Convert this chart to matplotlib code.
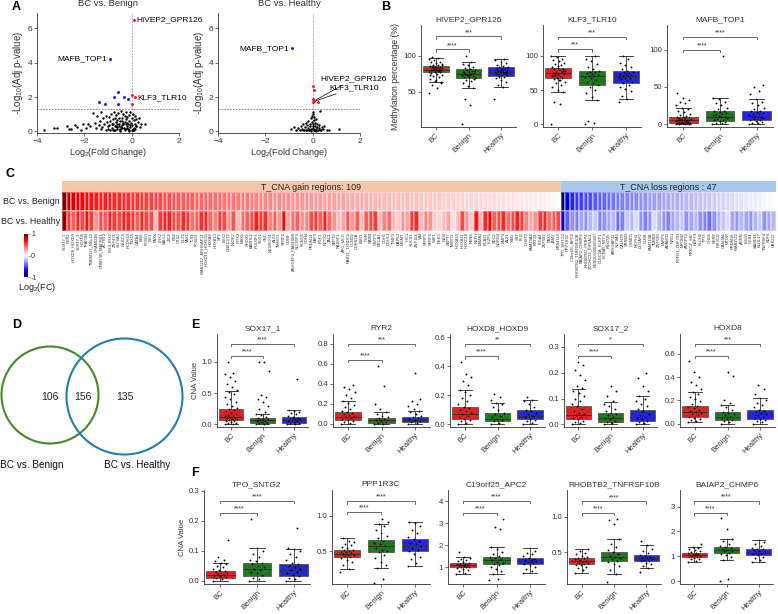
import numpy as np
import matplotlib
matplotlib.use('Agg')
import matplotlib.pyplot as plt
from matplotlib.patches import Circle, Rectangle
from matplotlib.colors import LinearSegmentedColormap, Normalize
from matplotlib.cm import ScalarMappable

plt.rcParams['font.family'] = ['Liberation Sans', 'DejaVu Sans']
plt.rcParams['mathtext.fontset'] = 'custom'
plt.rcParams['mathtext.rm'] = 'Liberation Sans'
plt.rcParams['mathtext.it'] = 'Liberation Sans:italic'
plt.rcParams['mathtext.bf'] = 'Liberation Sans:bold'

# ---------------- DATA ----------------
GROUPS = ['BC', 'Benign', 'Healthy']
GROUP_COLORS = ['#E41F1F', '#1B7A1B', '#2424E0']

# Panel A volcano: BC vs Benign
VB_x = [-3.7,-3.3,-3.15,-2.75,-2.65,-2.55,-2.4,-2.3,-2.15,-2.05,-1.95,-1.85,-1.75,-1.65,-1.55,-1.5,-1.45,-1.4,-1.35,-1.3,
        -1.25,-1.2,-1.15,-1.1,-1.05,-1.0,-0.95,-0.9,-0.88,-0.85,-0.8,-0.78,-0.75,-0.72,-0.7,-0.68,-0.65,-0.62,-0.6,-0.58,
        -0.55,-0.52,-0.5,-0.48,-0.45,-0.42,-0.4,-0.38,-0.35,-0.33,-0.3,-0.28,-0.25,-0.23,-0.2,-0.18,-0.15,-0.13,-0.1,-0.08,
        -0.05,-0.03,0.0,0.02,0.05,0.08,0.1,0.12,0.15,0.18,0.2,0.25,0.3,0.35,0.4,0.55,-0.9,-0.7,-0.5,-0.3,
        -0.1,0.05,-0.6,-0.4,-0.2,0.1,-1.1,-0.8,-0.65,-0.45,-0.25,-0.15,0.0,0.2,-1.3,-0.95,-0.55,-0.35,-0.05,0.15,
        -0.75,-0.5,-0.3,-0.1,0.05,-0.85,-0.6,-0.2,-0.4,-1.0]
VB_y = [0.08,0.18,0.2,0.3,0.15,0.12,0.35,0.25,0.1,0.4,0.2,0.45,0.3,1.05,0.5,0.2,0.9,0.35,0.6,1.1,
        0.25,0.75,0.4,0.9,0.55,0.3,0.85,0.6,1.0,0.2,0.7,0.45,1.15,0.3,0.8,0.55,0.95,0.25,0.65,1.05,
        0.4,0.8,0.15,0.6,1.2,0.35,0.75,0.5,1.0,0.2,0.9,0.55,0.7,1.1,0.3,0.85,0.45,0.95,0.6,0.25,
        1.15,0.5,0.8,0.35,1.0,0.65,0.2,0.9,0.45,0.7,0.3,0.55,0.8,0.25,0.4,0.45,0.1,0.05,0.08,0.12,
        0.06,0.1,0.15,0.2,0.18,0.05,0.05,0.1,0.3,0.25,0.4,0.15,0.1,0.3,0.12,0.35,0.28,0.45,0.35,0.15,
        0.05,0.02,0.05,0.03,0.08,0.4,0.45,0.5,0.6,0.15]
VB_blue_x = [-1.38,-1.13,-0.73,-0.57,-0.31,-0.17,-0.57,-0.92]
VB_blue_y = [1.71,1.58,2.0,2.3,2.0,1.89,1.58,4.22]
VB_red_x = [0.1,0.03,0.13,0.03]
VB_red_y = [6.5,2.13,1.98,1.58]

# Panel A volcano: BC vs Healthy
VH_x = [-0.9,-0.8,-0.7,-0.62,-0.55,-0.5,-0.45,-0.4,-0.35,-0.32,-0.28,-0.25,-0.22,-0.2,-0.18,-0.15,-0.12,-0.1,-0.08,-0.06,
        -0.04,-0.02,0.0,0.0,0.02,0.02,0.04,0.05,0.06,0.08,0.1,0.12,0.15,0.18,0.2,0.22,0.25,0.28,0.3,0.35,
        0.4,0.45,0.5,0.6,0.7,1.1,-0.3,-0.15,0.05,0.1,-0.05,0.0,0.03,-0.4,0.15,0.3]
VH_y = [0.15,0.25,0.1,0.2,0.05,0.3,0.15,0.4,0.1,0.25,0.5,0.05,0.35,0.2,0.6,0.1,0.45,0.3,0.75,0.15,
        0.55,0.9,1.0,0.4,1.15,0.2,0.65,0.85,0.1,0.5,0.3,0.7,0.15,0.4,0.25,0.05,0.35,0.2,1.2,0.1,
        0.25,0.15,0.3,0.1,0.05,0.12,0.08,0.05,0.05,0.1,0.02,0.15,0.3,0.05,0.02,0.05]
VH_blue_x = [-0.89]
VH_blue_y = [4.84]
VH_red_x = [0.03,0.06,0.03,0.06,0.03,0.24]
VH_red_y = [2.67,2.42,1.89,1.77,1.73,1.70]

# Panel B: methylation percentage (box stats: lo, q1, med, q3, hi)
B_titles = ['HIVEP2_GPR126', 'KLF3_TLR10', 'MAFB_TOP1']
B1_stats = [(64,77,81,86,97), (55,69,75,82,91), (57,72,78,84,96)]
B1_pts = [[48,55,60,63,65,68,70,72,74,75,76,77,78,78,79,80,80,81,81,82,82,83,83,84,85,85,86,87,88,89,90,91,92,94,96,97,99,62,66,73,79,84,87],
          [5,32,40,55,58,62,65,67,69,70,71,72,73,74,75,75,76,77,78,79,80,81,82,83,85,87,89,91,100,68,73,78],
          [40,57,60,63,66,69,71,72,73,74,75,76,77,78,78,79,80,81,82,83,84,85,86,88,90,92,94,96,70,77,82]]
B2_stats = [(47,67,75,82,100), (35,58,71,78,100), (37,61,70,78,100)]
B2_pts = [[0,30,32,47,50,55,58,60,62,64,66,67,68,70,71,72,73,74,75,76,77,78,79,80,81,82,84,86,88,90,92,94,96,98,100,65,72,78,85],
          [0,2,5,35,40,45,50,55,58,60,62,65,67,69,70,71,72,74,75,76,77,78,80,84,88,92,96,100],
          [33,37,42,48,52,55,58,60,62,64,66,67,68,69,70,71,72,73,74,75,76,77,78,80,83,86,90,95,100]]
B3_stats = [(0,1,5,9,22), (0,4,9,17,35), (0,5,9,17,34)]
B3_pts = [[0,0,0,0,1,1,1,2,2,2,3,3,3,4,4,5,5,5,6,6,7,7,8,8,9,9,10,11,12,14,16,18,20,22,25,28,30,32,35,42],
          [0,1,2,3,4,5,6,7,8,9,9,10,11,12,13,14,15,16,17,18,20,22,25,28,30,33,35,91],
          [0,1,2,3,4,5,6,7,8,9,9,10,11,12,13,14,15,16,17,18,20,22,25,28,30,34,40,45,50,53]]
B_brackets = [[(1,2,109,'****'),(1,3,127,'***')],
              [(1,2,110,'***'),(1,3,128,'***')],
              [(1,2,100,'****'),(1,3,117,'****')]]

# Panel C heatmap (log2 FC)
C_gain_benign = [0.98,0.85,0.78,0.72,0.70,0.68,0.66,0.64,0.63,0.62,
                 0.61,0.60,0.59,0.58,0.57,0.56,0.55,0.54,0.53,0.52,
                 0.51,0.50,0.49,0.48,0.47,0.46,0.45,0.45,0.44,0.43,
                 0.42,0.42,0.41,0.40,0.40,0.39,0.38,0.38,0.37,0.36,
                 0.36,0.35,0.35,0.34,0.33,0.33,0.32,0.32,0.31,0.31,
                 0.30,0.30,0.29,0.29,0.28,0.28,0.27,0.27,0.26,0.26,
                 0.25,0.25,0.24,0.24,0.23,0.23,0.22,0.22,0.21,0.21,
                 0.20,0.20,0.19,0.19,0.18,0.18,0.17,0.17,0.16,0.16,
                 0.15,0.15,0.15,0.14,0.14,0.13,0.13,0.12,0.12,0.12,
                 0.11,0.11,0.10,0.10,0.10,0.09,0.09,0.08,0.08,0.07,
                 0.07,0.06,0.06,0.05,0.05,0.04,0.03,0.02,0.01]
C_gain_healthy = [0.95,0.55,0.45,0.60,0.50,0.65,0.55,0.30,0.50,0.45,
                  0.60,0.55,0.50,0.62,0.58,0.55,0.45,0.60,0.52,0.50,
                  0.20,0.55,0.60,0.62,0.50,0.48,0.60,0.55,0.40,0.45,
                  0.58,0.60,0.42,0.35,0.55,0.50,0.30,0.48,0.20,0.40,
                  0.45,0.50,0.62,0.55,0.58,0.35,0.45,0.30,0.70,0.25,
                  0.40,0.45,0.30,0.35,0.50,0.55,0.45,0.62,0.42,0.30,
                  0.20,0.25,0.48,0.30,0.45,0.20,0.45,0.50,0.55,0.20,
                  0.35,0.40,0.20,0.15,0.30,0.25,0.55,0.60,0.20,0.35,
                  0.30,0.15,0.12,0.20,0.25,0.10,0.20,0.50,0.30,0.15,
                  0.65,0.20,0.60,0.70,0.45,0.50,0.60,0.40,0.50,0.62,
                  0.55,0.35,0.25,0.30,0.55,0.60,0.40,0.45,0.50]
C_loss_benign = [-1.0,-0.75,-0.6,-0.55,-0.52,-0.5,-0.48,-0.46,-0.44,-0.42,
                 -0.4,-0.38,-0.36,-0.35,-0.34,-0.33,-0.32,-0.31,-0.3,-0.28,
                 -0.27,-0.26,-0.25,-0.24,-0.23,-0.22,-0.21,-0.2,-0.19,-0.18,
                 -0.17,-0.16,-0.15,-0.14,-0.13,-0.12,-0.11,-0.1,-0.09,-0.08,
                 -0.07,-0.06,-0.05,-0.04,-0.03,-0.02,-0.01]
C_loss_healthy = [-0.8,-0.45,-0.3,-0.35,-0.25,-0.3,-0.2,-0.15,-0.35,-0.3,
                  -0.25,-0.2,-0.4,-0.35,-0.15,-0.2,-0.1,-0.3,-0.35,-0.3,
                  -0.1,-0.2,-0.3,-0.35,-0.25,-0.2,-0.15,-0.3,-0.25,-0.2,
                  -0.3,-0.35,-0.4,-0.3,-0.2,-0.15,-0.1,-0.25,-0.3,-0.2,
                  -0.25,-0.3,-0.2,-0.15,-0.3,-0.25,-0.2]
C_gain_names = ['SOX17_1','RYR2','HOXD8_HOXD9','SOX17_2','HOXD8','TFAP2B','TMEM117_NELL2','GRAMD1B','DNMT3B_MAPRE1','ACTRT2',
                'IRX4_IRX2','ZNF471','SLC6A3','NKX2-5','PCDH10','TBX15','GATA4','SIX6','FOXE1','WT1',
                'PAX6','LHX2','SALL1','ZIC4','EN2','OTX2','DLX5','VAX1','TLX1','FOXD3',
                'KIAA1217_ARHGAP21','HOXD10_HOXD11','HOXA9','HOXB13','SP9','EVX1','ONECUT2','NR2F2','PITX2','MSX1',
                'SHOX2','BARHL2','POU4F1','SOX1','GSC','NEUROG1','ALX4','TWIST1','SFRP2','GDNF',
                'ARHGEF4_FAM168B','SLC35F3','KCNQ5','CDH4','PRDM14','EBF3','FGF3','NPTX2','TAC1','SEPT9',
                'RASSF1','APC_MCC','RAB31_TXNDC2','CCND2','CDKN2A','ESR1','PGR','RARB','GSTP1','BRCA1',
                'CDH1','CDH13','TIMP3','DAPK1','MGMT','HIC1','SOCS1','ZNF154','VIM','SFRP1',
                'SFRP5','WIF1','DKK3','NID2','SEPT7','TWIST2','HOXA10','HOXA11','HOXC10','PENK',
                'NEFH','LAMA1','BCAT1','IKZF1','SDC2','NDRG4','BMP3','ALX1','SIM2','SST',
                'FLI1','CHST2','FAM19A4','KRT19','ITGA4','ZNF582','PAX1','JAM3','EPB41L3']
C_loss_names = ['TPO_SNTG2','PPP1R3C','C19orf25_APC2','RHOBTB2_TNFRSF10B','BAIAP2_CHMP6','RHOBTB2_PEBP4','ZCCHC24_EIF5AL1',
                'ENSG00000260807','CLEC2A_KLRF1','KCNA5_NTF3','FBXO25','ARHGAP32','SLC9A3','GALNT9','SRRM3','CSMD1',
                'MCPH1','DLGAP2','CLN8','FAM110A','TUBB8','ZNF596','LARP6','ADAM32','NRG1','FGFR1_ZNF703','MYOM2',
                'ANGPT2','PRKCZ_SKI','NBPF3','PLCH2','TP73','CHD5','RERE','PIK3CD','CAMTA1','MTOR','PRDM16',
                'KIAA1522','AGRN','ISG15','HES4','SAMD11','KLHL17','TNFRSF4','SDF4','UBE2J2']
C_rows = ['BC vs. Benign', 'BC vs. Healthy']

# Panel D Venn
D_counts = [106, 156, 135]
D_sets = ['BC vs. Benign', 'BC vs. Healthy']

# Panel E: CNA values (gain)
E_titles = ['SOX17_1', 'RYR2', 'HOXD8_HOXD9', 'SOX17_2', 'HOXD8']
E1_stats = [(0,0.07,0.12,0.25,0.53), (0,0.03,0.07,0.10,0.17), (0,0.03,0.07,0.12,0.23)]
E1_pts = [[0.0,0.01,0.02,0.03,0.04,0.05,0.06,0.07,0.08,0.09,0.1,0.11,0.12,0.13,0.14,0.15,0.17,0.19,0.21,0.23,0.25,0.27,0.3,0.33,0.36,0.4,0.44,0.48,0.52,0.55,0.6,0.65,0.7,0.75,0.8,0.82,1.0],
          [0.0,0.01,0.02,0.03,0.04,0.05,0.06,0.07,0.08,0.09,0.1,0.12,0.15,0.17,0.2,0.25,0.3,0.35,0.4,0.44,0.47,0.85,1.0,1.0],
          [0.0,0.01,0.02,0.03,0.04,0.05,0.06,0.07,0.08,0.09,0.1,0.11,0.12,0.14,0.16,0.18,0.2,0.22,0.23,0.73]]
E2_stats = [(0,0.04,0.07,0.12,0.23), (0,0.01,0.04,0.065,0.12), (0,0.02,0.04,0.07,0.13)]
E2_pts = [[0.0,0.01,0.02,0.03,0.04,0.05,0.06,0.07,0.08,0.09,0.1,0.11,0.12,0.13,0.15,0.17,0.19,0.21,0.23,0.26,0.29,0.32,0.35,0.37,0.39],
          [0.0,0.005,0.01,0.02,0.03,0.04,0.05,0.06,0.07,0.08,0.1,0.12,0.15,0.2,0.38,0.58],
          [0.0,0.01,0.02,0.03,0.04,0.05,0.06,0.07,0.08,0.1,0.12,0.13,0.15,0.18,0.2,0.23,0.25,0.51]]
E3_stats = [(0,0.04,0.07,0.12,0.235), (0,0.02,0.04,0.08,0.15), (0,0.035,0.06,0.10,0.17)]
E3_pts = [[0.0,0.01,0.02,0.03,0.04,0.05,0.06,0.07,0.08,0.09,0.1,0.11,0.12,0.14,0.16,0.18,0.2,0.22,0.24,0.27,0.3,0.33,0.35,0.43],
          [0.0,0.01,0.02,0.03,0.04,0.05,0.06,0.07,0.08,0.1,0.12,0.14,0.15,0.17,0.19,0.21],
          [0.0,0.01,0.02,0.03,0.04,0.05,0.06,0.07,0.08,0.09,0.1,0.12,0.14,0.16,0.17,0.19]]
E4_stats = [(0,0.02,0.035,0.07,0.137), (0,0.01,0.025,0.045,0.085), (0,0.015,0.03,0.057,0.11)]
E4_pts = [[0.0,0.005,0.01,0.015,0.02,0.025,0.03,0.035,0.04,0.045,0.05,0.06,0.07,0.08,0.09,0.1,0.11,0.12,0.13,0.14,0.15,0.17,0.19,0.21,0.23,0.24],
          [0.0,0.005,0.01,0.015,0.02,0.025,0.03,0.035,0.04,0.045,0.05,0.06,0.07,0.08,0.09,0.11,0.13,0.15],
          [0.0,0.005,0.01,0.015,0.02,0.025,0.03,0.035,0.04,0.05,0.06,0.07,0.08,0.09,0.1,0.11,0.13,0.15,0.18,0.2]]
E5_stats = [(0.01,0.06,0.10,0.15,0.27), (0,0.03,0.06,0.10,0.16), (0,0.04,0.07,0.12,0.22)]
E5_pts = [[0.01,0.02,0.03,0.04,0.05,0.06,0.07,0.08,0.09,0.1,0.11,0.12,0.13,0.14,0.15,0.17,0.19,0.21,0.23,0.25,0.27,0.3,0.33,0.36,0.4,0.44,0.54],
          [0.0,0.01,0.02,0.03,0.04,0.05,0.06,0.07,0.08,0.09,0.1,0.12,0.14,0.16,0.18,0.2,0.41,0.44],
          [0.0,0.01,0.02,0.03,0.04,0.05,0.06,0.07,0.08,0.09,0.1,0.11,0.12,0.14,0.16,0.18,0.2,0.22,0.25,0.3,0.33]]
E_brackets = [[(1,2,1.09,'****'),(1,3,1.28,'****')],
              [(1,2,0.64,'****'),(1,3,0.80,'***')],
              [(1,2,0.47,'****'),(1,3,0.554,'**')],
              [(1,2,0.264,'****'),(1,3,0.31,'*')],
              [(1,2,0.585,'****'),(1,3,0.687,'***')]]

# Panel F: CNA values (loss)
F_titles = ['TPO_SNTG2', 'PPP1R3C', 'C19orf25_APC2', 'RHOBTB2_TNFRSF10B', 'BAIAP2_CHMP6']
F1_stats = [(0,0.01,0.02,0.032,0.06), (0,0.018,0.04,0.06,0.11), (0,0.018,0.035,0.055,0.105)]
F1_pts = [[0.0,0.005,0.01,0.012,0.015,0.018,0.02,0.022,0.025,0.028,0.03,0.033,0.036,0.04,0.045,0.05,0.055,0.06,0.065,0.07,0.08,0.135],
          [0.0,0.005,0.01,0.02,0.025,0.03,0.035,0.04,0.045,0.05,0.055,0.06,0.065,0.07,0.08,0.09,0.1,0.11,0.205],
          [0.0,0.005,0.01,0.015,0.02,0.025,0.03,0.035,0.04,0.045,0.05,0.055,0.06,0.07,0.08,0.09,0.1,0.105,0.11,0.175]]
F2_stats = [(0.25,0.41,0.46,0.51,0.68), (0.26,0.49,0.57,0.66,0.88), (0.28,0.50,0.57,0.67,0.92)]
F2_pts = [[0.2,0.25,0.3,0.34,0.37,0.4,0.42,0.43,0.44,0.45,0.46,0.47,0.48,0.49,0.5,0.51,0.52,0.54,0.56,0.58,0.6,0.63,0.65,0.68],
          [0.05,0.1,0.26,0.3,0.35,0.4,0.45,0.48,0.5,0.52,0.55,0.57,0.6,0.62,0.65,0.68,0.72,0.76,0.8,0.85,0.88,0.92,0.95],
          [0.28,0.33,0.38,0.42,0.46,0.5,0.52,0.55,0.57,0.6,0.62,0.65,0.67,0.7,0.75,0.8,0.85,0.9,0.92]]
F3_stats = [(0.70,1.00,1.08,1.18,1.45), (0.68,1.13,1.30,1.45,1.92), (0.72,1.13,1.28,1.43,1.85)]
F3_pts = [[0.7,0.75,0.8,0.85,0.9,0.95,0.98,1.0,1.02,1.04,1.06,1.08,1.1,1.12,1.14,1.16,1.18,1.22,1.26,1.3,1.35,1.4,1.45,1.7],
          [0.4,0.45,0.68,0.8,0.9,1.0,1.1,1.15,1.2,1.25,1.3,1.35,1.4,1.45,1.5,1.6,1.7,1.8,1.92,2.75,2.8,3.2],
          [0.72,0.8,0.9,1.0,1.08,1.13,1.18,1.22,1.26,1.3,1.34,1.38,1.43,1.5,1.58,1.66,1.75,1.85]]
F4_stats = [(0.21,0.33,0.37,0.42,0.54), (0.19,0.37,0.43,0.50,0.68), (0.27,0.37,0.41,0.46,0.60)]
F4_pts = [[0.21,0.24,0.27,0.29,0.31,0.32,0.33,0.34,0.35,0.36,0.37,0.38,0.39,0.4,0.41,0.42,0.43,0.45,0.47,0.49,0.51,0.54],
          [0.08,0.19,0.25,0.3,0.33,0.36,0.38,0.4,0.42,0.43,0.45,0.47,0.5,0.53,0.57,0.62,0.68,0.9,0.95,0.97],
          [0.22,0.27,0.3,0.33,0.35,0.37,0.38,0.39,0.4,0.41,0.42,0.43,0.44,0.46,0.48,0.51,0.55,0.6,0.65]]
F5_stats = [(0.77,0.97,1.03,1.14,1.38), (0.85,1.13,1.26,1.38,1.70), (0.75,1.03,1.15,1.30,1.67)]
F5_pts = [[0.77,0.82,0.87,0.9,0.93,0.96,0.98,1.0,1.02,1.04,1.06,1.08,1.1,1.12,1.14,1.18,1.22,1.26,1.3,1.35,1.38,1.5],
          [0.0,0.1,0.85,0.95,1.05,1.1,1.15,1.2,1.23,1.26,1.3,1.34,1.38,1.42,1.5,1.6,1.7,2.1,2.53],
          [0.75,0.85,0.92,0.98,1.03,1.07,1.1,1.13,1.16,1.2,1.24,1.28,1.3,1.35,1.42,1.5,1.58,1.67]]
F_brackets = [[(1,2,0.228,'****'),(1,3,0.267,'****')],
              [(1,2,1.06,'****'),(1,3,1.21,'****')],
              [(1,2,3.47,'****'),(1,3,4.0,'****')],
              [(1,2,1.06,'****'),(1,3,1.22,'****')],
              [(1,2,2.75,'****'),(1,3,3.22,'****')]]

# ---------------- FIGURE ----------------
W, H = 778, 614
fig = plt.figure(figsize=(W/100, H/100), dpi=100)
TXT = '#333333'


def add_ax(l, t, r, b):
    return fig.add_axes([l / W, 1 - b / H, (r - l) / W, (b - t) / H])


def style(ax, labelsize=5.6):
    for s in ['top', 'right']:
        ax.spines[s].set_visible(False)
    for s in ['left', 'bottom']:
        ax.spines[s].set_color('#333333')
        ax.spines[s].set_linewidth(0.6)
    ax.tick_params(length=2, width=0.5, color='#333333', labelsize=labelsize,
                   labelcolor=TXT, pad=1.5)


def panel_label(x, y, s):
    fig.text(x / W, 1 - y / H, s, fontsize=9, fontweight='bold', ha='left', va='top')


# ---- Panel A ----
def volcano(rect, title, bx, by, blx, bly, rx, ry):
    ax = add_ax(*rect)
    style(ax, 6)
    n = min(len(bx), len(by))
    ax.scatter(bx[:n], by[:n], s=3.0, c='black', lw=0, zorder=3)
    ax.scatter(blx, bly, s=4.5, c='#1010FF', lw=0, zorder=4)
    ax.scatter(rx, ry, s=4.5, c='#FF1010', lw=0, zorder=4)
    ax.axvline(0, color='#999999', ls=(0, (2, 1.5)), lw=0.6, zorder=1)
    ax.axhline(-np.log10(0.05), color='#777777', ls=(0, (2, 1.5)), lw=0.6, zorder=1)
    ax.set_xlim(-4, 2)
    ax.set_ylim(-0.1, 6.9)
    ax.set_xticks([-4, -2, 0, 2])
    ax.set_yticks([0, 2, 4, 6])
    ax.set_xlabel('Log$_2$(Fold Change)', fontsize=6.5, color=TXT, labelpad=1)
    ax.set_title(title, fontsize=6.8, color=TXT, pad=5)
    return ax


axA1 = volcano((37, 13, 179, 133), 'BC vs. Benign', VB_x, VB_y, VB_blue_x, VB_blue_y, VB_red_x, VB_red_y)
axA1.set_ylabel('-Log$_{10}$(Adj p-value)', fontsize=7, color=TXT, labelpad=2)
axA1.text(VB_red_x[0] + 0.12, VB_red_y[0], 'HIVEP2_GPR126', fontsize=6, ha='left', va='center')
axA1.text(VB_blue_x[-1] - 0.12, VB_blue_y[-1], 'MAFB_TOP1', fontsize=6, ha='right', va='center')
axA1.text(VB_red_x[2] + 0.12, VB_red_y[2], 'KLF3_TLR10', fontsize=6, ha='left', va='center')

axA2 = volcano((218, 13, 360, 133), 'BC vs. Healthy', VH_x, VH_y, VH_blue_x, VH_blue_y, VH_red_x, VH_red_y)
axA2.set_ylabel('-Log$_{10}$(Adj p-value)', fontsize=7, color=TXT, labelpad=2)
axA2.text(VH_blue_x[0] - 0.12, VH_blue_y[0], 'MAFB_TOP1', fontsize=6, ha='right', va='center')
axA2.annotate('HIVEP2_GPR126', xy=(VH_red_x[3], VH_red_y[3]), xytext=(0.32, 3.05), fontsize=6,
              ha='left', va='center', arrowprops=dict(arrowstyle='-', color='black', lw=0.5, shrinkA=0, shrinkB=1))
axA2.annotate('KLF3_TLR10', xy=(VH_red_x[4], VH_red_y[4]), xytext=(0.72, 2.55), fontsize=6,
              ha='left', va='center', arrowprops=dict(arrowstyle='-', color='black', lw=0.5, shrinkA=0, shrinkB=1))


# ---- box panels ----
def box_panel(rect, title, stats, pts, ylim, yticks, yticklabels, brackets, ylabel=None, ylabsize=5.8):
    ax = add_ax(*rect)
    style(ax)
    bstats = [dict(whislo=s[0], q1=s[1], med=s[2], q3=s[3], whishi=s[4], fliers=[]) for s in stats]
    bp = ax.bxp(bstats, positions=[1, 2, 3], widths=0.78, patch_artist=True, showfliers=False,
                boxprops=dict(edgecolor='#555555', linewidth=0.6),
                medianprops=dict(color='#333333', linewidth=0.7),
                whiskerprops=dict(color='#333333', linewidth=0.6),
                capprops=dict(color='#222222', linewidth=0.6), capwidths=0.42, manage_ticks=False)
    for patch, c in zip(bp['boxes'], GROUP_COLORS):
        patch.set_facecolor(c)
    for i, p in enumerate(pts):
        p = np.asarray(p, dtype=float)
        offs = ((np.arange(len(p)) * 0.618034) % 1.0 - 0.5) * 0.42
        ax.scatter(i + 1 + offs, p, s=1.8, c='black', lw=0, zorder=5)
    rng = ylim[1] - ylim[0]
    for x1, x2, y, txt in brackets:
        d = 0.025 * rng
        ax.plot([x1, x1, x2, x2], [y - d, y, y, y - d], color='#555555', lw=0.6, clip_on=False, zorder=6)
        ax.text((x1 + x2) / 2, y + 0.004 * rng, txt, ha='center', va='bottom', fontsize=5, color=TXT)
    ax.set_xlim(0.55, 3.45)
    ax.set_ylim(*ylim)
    ax.set_yticks(yticks)
    ax.set_yticklabels(yticklabels)
    ax.set_xticks([1, 2, 3])
    ax.set_xticklabels(GROUPS, rotation=45, ha='right', rotation_mode='anchor', fontsize=5.5)
    ax.set_title(title, fontsize=6.0, color=TXT, pad=3)
    if ylabel:
        ax.set_ylabel(ylabel, fontsize=ylabsize, color=TXT, labelpad=2)
    return ax


# ---- Panel B ----
box_panel((421, 25, 516, 127), B_titles[0], B1_stats, B1_pts, (1, 143), [50, 100], ['50', '100'], B_brackets[0],
          ylabel='Methylation percentage (%)', ylabsize=6.3)
box_panel((543, 25, 641, 127), B_titles[1], B2_stats, B2_pts, (-4, 145), [0, 50, 100], ['0', '50', '100'], B_brackets[1])
box_panel((667, 25, 773, 127), B_titles[2], B3_stats, B3_pts, (-4, 133), [0, 50, 100], ['0', '50', '100'], B_brackets[2])

# ---- Panel C ----
cmap = LinearSegmentedColormap.from_list('fc', [(0.0, '#00006E'), (0.15, '#0000FF'), (0.5, '#FFFFFF'),
                                                (0.85, '#FF0000'), (1.0, '#780000')])
norm = Normalize(-1, 1)
n_gain = len(C_gain_benign)
n_loss = len(C_loss_benign)
M = np.array([C_gain_benign + C_loss_benign, C_gain_healthy + C_loss_healthy])
ncol = M.shape[1]
axC = add_ax(62, 192, 776, 231)
axC.pcolormesh(np.arange(ncol + 1), [0, 1, 2], M, cmap=cmap, norm=norm,
               edgecolors=(1, 1, 1, 0.35), linewidth=0.08)
axC.set_xlim(0, ncol)
axC.set_ylim(2, 0)
axC.axis('off')
for j, r in enumerate(C_rows):
    axC.text(-0.4, j + 0.5, r, ha='right', va='center', fontsize=6.4, color='#222222')
for i, name in enumerate(C_gain_names + C_loss_names):
    if i < ncol:
        axC.text(i + 0.5, 2.06, name, rotation=90, ha='center', va='top', fontsize=2.9,
                 color='#333333', clip_on=False)
axS = add_ax(62, 181, 776, 192)
axS.set_xlim(0, ncol)
axS.set_ylim(0, 1)
axS.axis('off')
axS.add_patch(Rectangle((0, 0), n_gain, 1, facecolor='#F6C6AA', edgecolor='none'))
axS.add_patch(Rectangle((n_gain, 0), n_loss, 1, facecolor='#A7C8EC', edgecolor='none'))
axS.text(n_gain / 2, 0.45, 'T_CNA gain regions: %d' % n_gain, ha='center', va='center', fontsize=6.4, color='#222222')
axS.text(n_gain + n_loss / 2, 0.45, 'T_CNA loss regions : %d' % n_loss, ha='center', va='center', fontsize=6.4,
         color='#222222')
cax = add_ax(24, 234, 28, 277)
cb = fig.colorbar(ScalarMappable(norm=norm, cmap=cmap), cax=cax, ticks=[-1, 0, 1])
cb.outline.set_visible(False)
cb.ax.tick_params(length=1.2, width=0.4, labelsize=5, pad=1, color='#333333', labelcolor=TXT)
cb.ax.set_yticklabels(['-1', '0', '1'])
fig.text(18 / W, 1 - 288 / H, 'Log$_2$(FC)', fontsize=6.5, ha='left', va='center', color='#222222')

# ---- Panel D ----
axD = add_ax(0, 330, 190, 470)
axD.set_xlim(0, 190)
axD.set_ylim(470, 330)
axD.axis('off')
axD.add_patch(Circle((50, 395), 48.5, fill=False, edgecolor='#46892A', linewidth=1.5))
axD.add_patch(Circle((124.5, 396.5), 58, fill=False, edgecolor='#1E7FB3', linewidth=1.5))
axD.text(50, 397, str(D_counts[0]), ha='center', va='center', fontsize=7.5, color='#222222')
axD.text(83, 397, str(D_counts[1]), ha='center', va='center', fontsize=7.5, color='#222222')
axD.text(125, 397, str(D_counts[2]), ha='center', va='center', fontsize=7.5, color='#222222')
fig.text(32 / W, 1 - 465 / H, D_sets[0], ha='center', va='center', fontsize=7.2, color='#111111')
fig.text(137 / W, 1 - 465 / H, D_sets[1], ha='center', va='center', fontsize=7.2, color='#111111')

# ---- Panel E ----
E_rects = [(217, 334, 308, 427), (333, 334, 430, 427), (450, 334, 545, 427), (564, 334, 657, 427), (680, 334, 775, 427)]
E_stats = [E1_stats, E2_stats, E3_stats, E4_stats, E5_stats]
E_pts = [E1_pts, E2_pts, E3_pts, E4_pts, E5_pts]
E_ylims = [(-0.04, 1.44), (-0.03, 0.9), (-0.018, 0.623), (-0.01, 0.349), (-0.03, 0.77)]
E_yticks = [[0, 0.5, 1.0], [0, 0.2, 0.4, 0.6, 0.8], [0, 0.2, 0.4, 0.6], [0, 0.1, 0.2, 0.3], [0, 0.2, 0.4, 0.6]]
for k in range(5):
    labs = ['%.1f' % v for v in E_yticks[k]]
    box_panel(E_rects[k], E_titles[k], E_stats[k], E_pts[k], E_ylims[k], E_yticks[k], labs, E_brackets[k],
              ylabel='CNA Value' if k == 0 else None, ylabsize=5.6)

# ---- Panel F ----
F_rects = [(204, 490, 310, 584), (332, 490, 430, 584), (448, 490, 545, 584), (567, 490, 661, 584), (680, 490, 773, 584)]
F_stats = [F1_stats, F2_stats, F3_stats, F4_stats, F5_stats]
F_pts = [F1_pts, F2_pts, F3_pts, F4_pts, F5_pts]
F_ylims = [(-0.01, 0.303), (0.03, 1.37), (0.23, 4.5), (0.047, 1.38), (-0.12, 3.67)]
F_yticks = [[0, 0.1, 0.2, 0.3], [0.5, 1.0], [1, 2, 3, 4], [0.5, 1.0], [0, 1, 2, 3]]
F_ylabs = [['0.0', '0.1', '0.2', '0.3'], ['0.5', '1.0'], ['1', '2', '3', '4'], ['0.5', '1.0'], ['0', '1', '2', '3']]
for k in range(5):
    box_panel(F_rects[k], F_titles[k], F_stats[k], F_pts[k], F_ylims[k], F_yticks[k], F_ylabs[k], F_brackets[k],
              ylabel='CNA Value' if k == 0 else None, ylabsize=5.6)

# ---- panel letters ----
panel_label(12, 1, 'A')
panel_label(381, 1, 'B')
panel_label(6, 168, 'C')
panel_label(12, 319, 'D')
panel_label(191, 319, 'E')
panel_label(191, 467, 'F')

fig.savefig('out.png', dpi=100)
